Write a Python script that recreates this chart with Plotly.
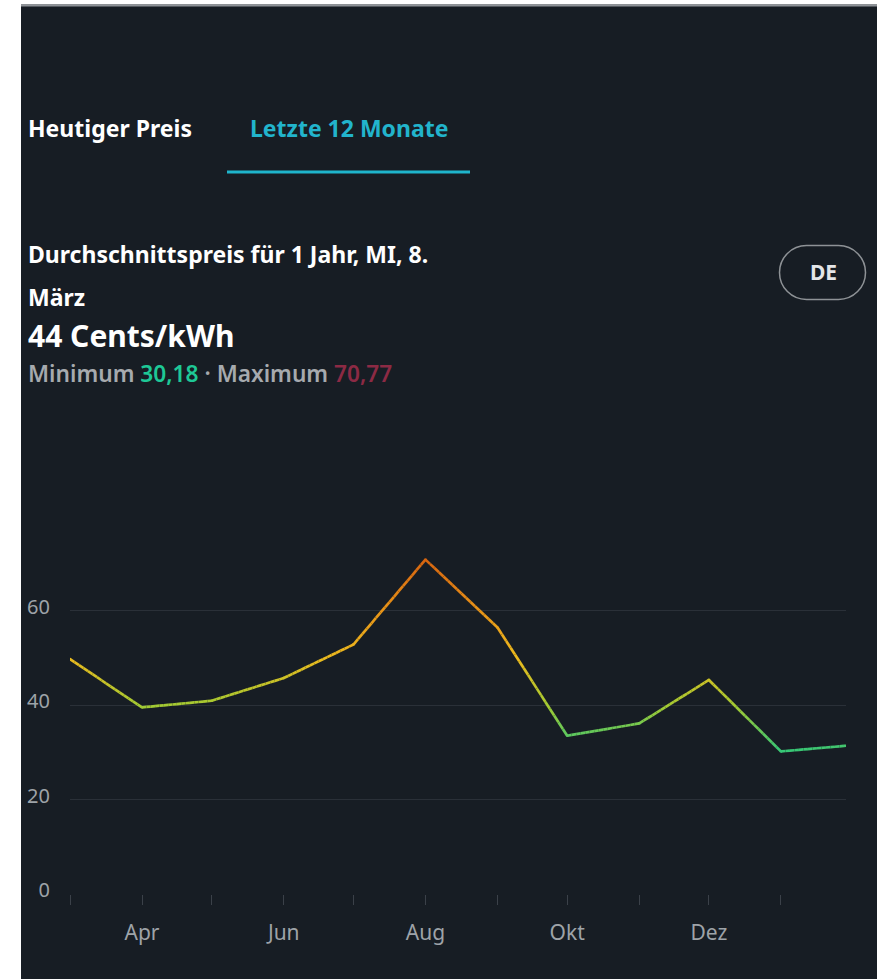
import plotly.graph_objects as go
import pandas as pd

# ---- data ----
month_dates = ["2022-03-01", "2022-04-01", "2022-05-01", "2022-06-01", "2022-07-01",
               "2022-08-01", "2022-09-01", "2022-10-01", "2022-11-01", "2022-12-01",
               "2023-01-01", "2023-02-01"]
prices = [49.7, 39.5, 40.9, 45.7, 52.8, 70.77, 56.4, 33.5, 36.1, 45.3, 30.18, 31.5]

tick_dates = ["2022-03-01", "2022-04-01", "2022-05-01", "2022-06-01", "2022-07-01",
              "2022-08-01", "2022-09-01", "2022-10-01", "2022-11-01", "2022-12-01",
              "2023-01-01"]
tick_labels = ["", "Apr", "", "Jun", "", "Aug", "", "Okt", "", "Dez", ""]
y_ticks = [0, 20, 40, 60]

tab_left = "Heutiger Preis"
tab_right = "Letzte 12 Monate"
title_line1 = "Durchschnittspreis für 1 Jahr, MI, 8."
title_line2 = "März"
avg_text = "44 Cents/kWh"
min_value = "30,18"
max_value = "70,77"
country = "DE"

# ---- layout geometry (pixels) ----
W, H = 877, 979
L, R, T, B = 70, 846, 516, 894

BG = "#171d24"


def px(x):
    return (x - L) / (R - L)


def py(y):
    return (B - y) / (B - T)


STOPS = [(30, (52, 199, 120)), (40, (165, 202, 50)), (50, (236, 186, 30)),
         (60, (232, 148, 24)), (71, (214, 100, 16))]


def cmap(v):
    if v <= STOPS[0][0]:
        c = STOPS[0][1]
    elif v >= STOPS[-1][0]:
        c = STOPS[-1][1]
    else:
        for (a, ca), (b, cb) in zip(STOPS[:-1], STOPS[1:]):
            if a <= v <= b:
                f = (v - a) / (b - a)
                c = tuple(ca[i] + (cb[i] - ca[i]) * f for i in range(3))
                break
    return "rgb(%d,%d,%d)" % tuple(int(round(x)) for x in c)


fig = go.Figure()

dates = pd.to_datetime(month_dates)
N = 16
for i in range(len(prices) - 1):
    t0, t1 = dates[i], dates[i + 1]
    v0, v1 = prices[i], prices[i + 1]
    for k in range(N):
        a, b = k / N, (k + 1) / N
        xs = [t0 + (t1 - t0) * a, t0 + (t1 - t0) * b]
        ys = [v0 + (v1 - v0) * a, v0 + (v1 - v0) * b]
        fig.add_trace(go.Scatter(x=xs, y=ys, mode="lines",
                                 line=dict(color=cmap((ys[0] + ys[1]) / 2), width=2.7),
                                 hoverinfo="skip", showlegend=False))

fig.add_trace(go.Scatter(x=dates, y=prices, mode="markers",
                         marker=dict(size=2.7, color=[cmap(v) for v in prices], line=dict(width=0)),
                         hoverinfo="skip", showlegend=False))

fig.update_layout(
    width=W, height=H,
    margin=dict(l=L, r=W - R, t=T, b=H - B, pad=0),
    paper_bgcolor=BG, plot_bgcolor="rgba(0,0,0,0)",
    showlegend=False,
    font=dict(family="Noto Sans", color="#9ea3a8"),
    xaxis=dict(type="date", range=["2022-03-01", "2023-01-29"],
               tickmode="array", tickvals=tick_dates, ticktext=tick_labels,
               ticks="outside", ticklen=10, tickcolor="#3b4149", tickwidth=1,
               showgrid=False, zeroline=False, showline=False,
               tickfont=dict(size=21, color="#9ea3a8", family="Noto Sans"),
               ticklabelstandoff=10),
    yaxis=dict(range=[0, 80], tickmode="array", tickvals=y_ticks,
               showgrid=True, gridcolor="#2a3038", gridwidth=1,
               zeroline=False, showline=False, ticks="",
               tickfont=dict(size=20, color="#9ea3a8", family="Noto Sans"),
               ticklabelstandoff=19, ticklabelshift=-4),
)

shapes = []
# white outer strips
shapes.append(dict(type="rect", xref="paper", yref="paper", x0=px(0), x1=px(21), y0=py(H), y1=py(0),
                   fillcolor="white", line=dict(width=0), layer="above"))
shapes.append(dict(type="rect", xref="paper", yref="paper", x0=px(21), x1=px(W), y0=py(4.5), y1=py(0),
                   fillcolor="white", line=dict(width=0), layer="above"))
shapes.append(dict(type="rect", xref="paper", yref="paper", x0=px(21), x1=px(W), y0=py(6.5), y1=py(4.5),
                   fillcolor="#8f9398", line=dict(width=0), layer="above"))
# tab underline
shapes.append(dict(type="rect", xref="paper", yref="paper", x0=px(227), x1=px(470), y0=py(173.5), y1=py(170.5),
                   fillcolor="#1fb5cc", line=dict(width=0), layer="above"))

# pill
l_, r_, t_, b_ = 779.5, 865.5, 245.5, 299.5
rad = (b_ - t_) / 2
k = 0.5523 * rad


def P(x, y):
    return "%.6f,%.6f" % (px(x), py(y))


path = ("M " + P(l_ + rad, t_) + " L " + P(r_ - rad, t_) +
        " C " + P(r_ - rad + k, t_) + " " + P(r_, t_ + rad - k) + " " + P(r_, t_ + rad) +
        " C " + P(r_, t_ + rad + k) + " " + P(r_ - rad + k, b_) + " " + P(r_ - rad, b_) +
        " L " + P(l_ + rad, b_) +
        " C " + P(l_ + rad - k, b_) + " " + P(l_, b_ - rad + k) + " " + P(l_, b_ - rad) +
        " C " + P(l_, t_ + rad - k) + " " + P(l_ + rad - k, t_) + " " + P(l_ + rad, t_) + " Z")
shapes.append(dict(type="path", xref="paper", yref="paper", path=path,
                   line=dict(color="#8e9296", width=1.5), fillcolor="rgba(0,0,0,0)", layer="above"))
fig.update_layout(shapes=shapes)


def ann(text, x, y, size, color, weight="bold", xanchor="left", family="Noto Sans"):
    fig.add_annotation(text=text, xref="paper", yref="paper", x=px(x), y=py(y),
                       xanchor=xanchor, yanchor="middle", showarrow=False,
                       font=dict(size=size, color=color, family=family, weight=weight))


ann(tab_left, 26, 128, 23, "#ffffff")
ann(tab_right, 248, 128, 23, "#22b4cc")
ann(title_line1, 26, 254, 23, "#ffffff")
ann(title_line2, 26, 297, 23, "#ffffff")
ann(avg_text, 26, 335, 30, "#ffffff")
ann("Minimum <span style='color:#1ec896'>" + min_value + "</span> · Maximum "
    "<span style='color:#8c2a44'>" + max_value + "</span>", 26, 373, 22.7, "#a6aaae", weight=600)
ann(country, 823, 272, 21, "#e4e6e8", xanchor="center")

fig.write_html("out.html", config={"displayModeBar": False},
               post_script="document.body.style.margin='0';document.body.style.overflow='hidden';")
